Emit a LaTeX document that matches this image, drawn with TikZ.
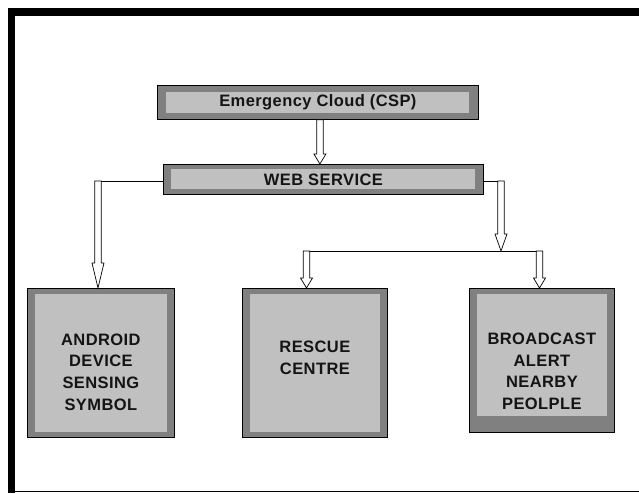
\documentclass[tikz,border=0pt]{standalone}
\usepackage{fontspec}
\newfontfamily\panelfont{Liberation Sans}[LetterSpace=2.5]
\usetikzlibrary{calc}

\definecolor{bandgray}{RGB}{128,128,128}
\definecolor{facegray}{RGB}{192,192,192}
\definecolor{ink}{RGB}{20,20,20}

\tikzset{
  panel/.style args={#1/#2/#3}{rectangle, draw=black, line width=0.8pt, fill=bandgray,
    inner sep=0pt, anchor=north west, text=ink,
    font=\panelfont\bfseries\fontsize{16.5}{21.7}\selectfont,
    path picture={\fill[facegray]
      ([shift={(#1,-#2)}]path picture bounding box.north west) rectangle
      ([shift={(-#1,#3)}]path picture bounding box.south east);}},
  panel/.default=8pt/6pt/6pt,
  paneltext/.style={align=center, text=ink, inner sep=0pt,
    font=\panelfont\bfseries\fontsize{16.5}{21.7}\selectfont},
  hollow/.style={draw=black, fill=white, line width=0.7pt,
    to path={let \p1=(\tikztostart), \p2=(\tikztotarget) in
      (\x1-3.25pt,\y1) -- (\x1-3.25pt,\y2+#1) -- (\x1-6pt,\y2+#1) -- (\x1,\y2)
      -- (\x1+6pt,\y2+#1) -- (\x1+3.25pt,\y2+#1) -- (\x1+3.25pt,\y1) -- cycle}},
  hollow/.default=10pt
}

\begin{document}
\begin{tikzpicture}[x=1pt, y=-1pt]
    \useasboundingbox (0,0) rectangle (639,493);

    % Page frame
    \fill (7.5,8) rectangle (639,16);
    \fill (7.5,8) rectangle (14.5,493);
    \draw[line width=1pt] (7.5,491.5) -- (639,491.5);

    % Cloud and web service
    \node[panel=9pt/7pt/6pt, minimum width=321pt, minimum height=34pt] (cloud) at (157,85) {Emergency Cloud (CSP)};
    \node[panel=8pt/5pt/5pt, minimum width=320pt, minimum height=30pt] (web) at (163,164) {WEB SERVICE};

    % Three receivers
    \node[panel=7.5pt/6pt/5pt, minimum width=147pt, minimum height=149pt,
      label={[paneltext, yshift=-9pt]center:ANDROID\\DEVICE\\SENSING\\SYMBOL}] (android) at (27,288) {};
    \node[panel=7.5pt/6pt/5pt, minimum width=145pt, minimum height=149pt,
      label={[paneltext, yshift=5pt]center:RESCUE\\CENTRE}] (rescue) at (242,288) {};
    \node[panel=7.5pt/6pt/16pt, minimum width=145pt, minimum height=144pt,
      label={[paneltext, yshift=-11pt]center:BROADCAST\\ALERT\\NEARBY\\PEOLPLE}] (broadcast) at (469,288) {};

    % Turning points of the connectors
    \coordinate (lturn) at (98,181);
    \coordinate (rturn) at (501,181);
    \coordinate (split) at (501,251);
    \coordinate (rdrop) at (306.5,251);
    \coordinate (bdrop) at (539.5,251);

    % Cloud to web service
    \draw[hollow] ([xshift=2pt]cloud.south) to (web.north);

    % Web service to android
    \draw[line width=0.7pt] (web.west |- lturn) -- (lturn);
    \draw[hollow=25pt] (lturn) to (android.north -| lturn);

    % Web service to rescue and broadcast
    \draw[line width=0.7pt] (web.east |- rturn) -- (rturn);
    \draw[line width=0.7pt] ([xshift=-3.5pt]rdrop) -- ([xshift=3.5pt]bdrop);
    \draw[hollow=17pt] (rturn) to (split);
    \draw[hollow] (rdrop) to (rescue.north -| rdrop);
    \draw[hollow] (bdrop) to (broadcast.north -| bdrop);
\end{tikzpicture}
\end{document}
